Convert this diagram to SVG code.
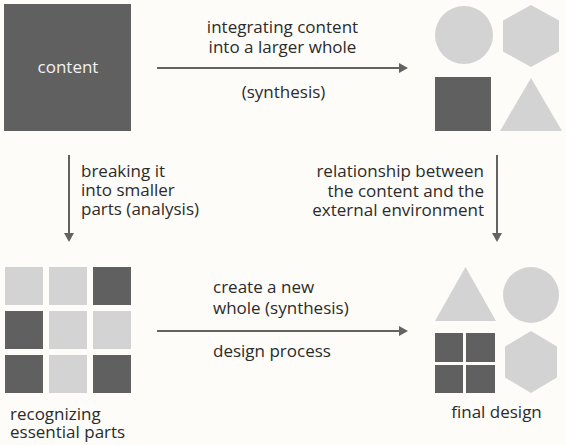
<svg xmlns="http://www.w3.org/2000/svg" width="566" height="445" viewBox="0 0 566 445">
  <style>
    .dark { fill: #606060; }
    .light { fill: #d3d3d3; }
    .lbl { font-family: "Open Sans", "Liberation Sans", sans-serif; font-size: 17px; fill: #2b2b2b; }
    .conn { stroke: #636363; stroke-width: 2; fill: none; marker-end: url(#arrow); }
  </style>
  <defs>
    <marker id="arrow" markerUnits="userSpaceOnUse" markerWidth="10" markerHeight="10" refX="0" refY="5" orient="auto">
      <path d="M0,0 L9,5 L0,10 z" fill="#636363"/>
    </marker>
  </defs>
  <rect width="566" height="445" fill="#fdfcf8"/>

  <g id="content">
    <rect class="dark" x="4" y="4" width="127" height="127"/>
    <text x="68" y="73" text-anchor="middle" style="font-family: 'Open Sans', 'Liberation Sans', sans-serif; font-size: 17px; fill: #f2f2f2;">content</text>
  </g>

  <g id="synthesis-shapes">
    <circle class="light" cx="464" cy="35" r="29"/>
    <polygon class="light" points="531,5 559,20.5 559,51.5 531,67 503,51.5 503,20.5"/>
    <rect class="dark" x="435" y="77" width="56" height="54"/>
    <polygon class="light" points="531,78 562,131 500,131"/>
  </g>

  <g id="essential-parts">
    <rect class="light" x="5" y="267" width="38" height="38"/>
    <rect class="light" x="49" y="267" width="38" height="38"/>
    <rect class="dark" x="93" y="267" width="38" height="38"/>
    <rect class="dark" x="5" y="311" width="38" height="38"/>
    <rect class="light" x="49" y="311" width="38" height="38"/>
    <rect class="light" x="93" y="311" width="38" height="38"/>
    <rect class="dark" x="5" y="355" width="38" height="38"/>
    <rect class="light" x="49" y="355" width="38" height="38"/>
    <rect class="dark" x="93" y="355" width="38" height="38"/>
    <text class="lbl" x="10" y="420">recognizing</text>
    <text class="lbl" x="10" y="438">essential parts</text>
  </g>

  <g id="final-design">
    <polygon class="light" points="465.5,267 496,321 435,321"/>
    <circle class="light" cx="531" cy="295" r="28"/>
    <rect class="dark" x="435" y="333" width="28" height="29"/>
    <rect class="dark" x="466" y="333" width="29" height="29"/>
    <rect class="dark" x="435" y="365" width="28" height="28"/>
    <rect class="dark" x="466" y="365" width="29" height="28"/>
    <polygon class="light" points="531,331 557,346.5 557,377.5 531,393 505,377.5 505,346.5"/>
    <text class="lbl" x="496.5" y="418" text-anchor="middle">final design</text>
  </g>

  <g id="connectors">
    <line class="conn" x1="157" y1="68" x2="399" y2="68"/>
    <line class="conn" x1="157" y1="331" x2="399" y2="331"/>
    <line class="conn" x1="69" y1="155" x2="69" y2="233"/>
    <line class="conn" x1="497" y1="155" x2="497" y2="233"/>
  </g>

  <g id="labels">
    <text class="lbl" x="282.5" y="33" text-anchor="middle">integrating content</text>
    <text class="lbl" x="282.5" y="53" text-anchor="middle">into a larger whole</text>
    <text class="lbl" x="283.5" y="98" text-anchor="middle">(synthesis)</text>

    <text class="lbl" x="81" y="177">breaking it</text>
    <text class="lbl" x="81" y="196">into smaller</text>
    <text class="lbl" x="81" y="215">parts (analysis)</text>

    <text class="lbl" x="484" y="177" text-anchor="end">relationship between</text>
    <text class="lbl" x="484" y="197" text-anchor="end">the content and the</text>
    <text class="lbl" x="484" y="216" text-anchor="end">external environment</text>

    <text class="lbl" x="213" y="293">create a new</text>
    <text class="lbl" x="213" y="314">whole (synthesis)</text>
    <text class="lbl" x="213" y="357">design process</text>
  </g>
</svg>
